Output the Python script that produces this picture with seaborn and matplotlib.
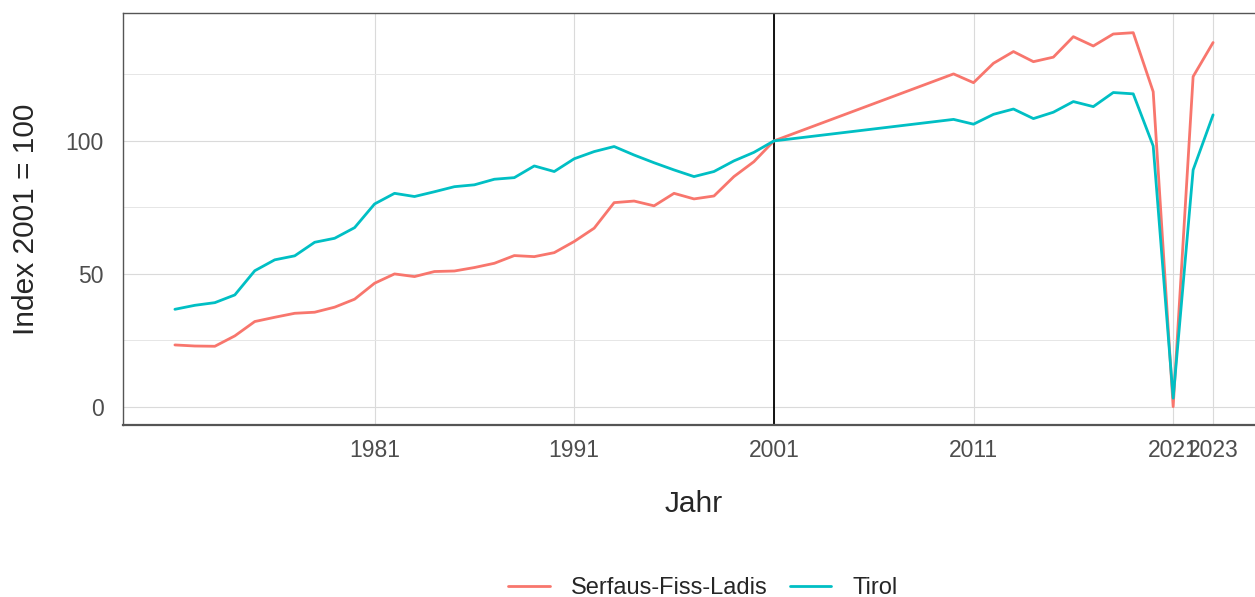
import pandas as pd
import seaborn as sns
import matplotlib.pyplot as plt

# Jahre (Lücke 2002-2009 ohne Daten)
years = list(range(1971, 2002)) + list(range(2010, 2024))

serfaus = [23.3, 22.9, 22.8, 26.7, 32.1, 33.7, 35.2, 35.6, 37.5, 40.5,
           46.5, 50.0, 49.0, 50.9, 51.1, 52.4, 54.0, 56.9, 56.5, 58.0,
           62.2, 67.2, 76.8, 77.4, 75.6, 80.3, 78.2, 79.3, 86.6, 92.2,
           100.0,
           125.2, 121.9, 129.2, 133.6, 129.8, 131.5, 139.2, 135.7, 140.2,
           140.7, 118.5, 0.1, 124.2, 137.0]

tirol = [36.7, 38.2, 39.2, 42.1, 51.2, 55.3, 56.8, 61.9, 63.4, 67.4,
         76.3, 80.3, 79.1, 80.9, 82.8, 83.5, 85.6, 86.2, 90.6, 88.5,
         93.3, 96.0, 97.9, 94.7, 91.8, 89.1, 86.6, 88.5, 92.5, 95.7,
         100.0,
         108.1, 106.3, 110.0, 112.0, 108.4, 110.8, 114.8, 112.9, 118.2,
         117.7, 98.1, 3.3, 89.1, 109.8]

regions = ['Serfaus-Fiss-Ladis', 'Tirol']
colors = ['#F8766D', '#00BFC4']
x_ticks = [1981, 1991, 2001, 2011, 2021, 2023]
y_ticks = [0, 50, 100]

df = pd.DataFrame({
    'Jahr': years * 2,
    'Index': serfaus + tirol,
    'Region': [regions[0]] * len(years) + [regions[1]] * len(years),
})

sns.set_style('white')
plt.rcParams['font.family'] = ['Liberation Sans', 'DejaVu Sans']

fig = plt.figure(figsize=(12.55, 5.97), dpi=100)
ax = fig.add_axes([123 / 1255, 1 - 425 / 597, 1142 / 1255, 412 / 597])

# Gitterlinien
ax.set_yticks([25, 75, 125], minor=True)
ax.grid(True, which='major', color='#DADADA', linewidth=0.8)
ax.grid(True, which='minor', axis='y', color='#E6E6E6', linewidth=0.7)
ax.set_axisbelow(True)

sns.lineplot(data=df, x='Jahr', y='Index', hue='Region', hue_order=regions,
             palette=colors, linewidth=2.0, ax=ax, estimator=None)

ax.axvline(2001, color='black', linewidth=1.3, zorder=1.5)

ax.set_xlim(1968.4, 2025.6)
ax.set_ylim(-6.8, 148.1)
ax.set_xticks(x_ticks)
ax.set_xticklabels([str(t) for t in x_ticks])
ax.set_yticks(y_ticks)
ax.tick_params(axis='both', which='major', length=5, width=0.8, color='#333333',
               labelsize=16.5, labelcolor='#4D4D4D')
ax.tick_params(axis='x', pad=5)
ax.tick_params(axis='y', pad=9)
ax.tick_params(which='minor', length=0)

for side, sp in ax.spines.items():
    sp.set_color('#555555')
    sp.set_linewidth(1.0)
ax.spines['bottom'].set_linewidth(1.6)

ax.set_xlabel('Jahr', fontsize=21.5, labelpad=20)
ax.set_ylabel('Index 2001 = 100', fontsize=21.5, labelpad=18)

handles, labels = ax.get_legend_handles_labels()
ax.legend_.remove()
fig.legend(handles, labels, loc='center', bbox_to_anchor=(703 / 1255, 1 - 588 / 597),
           ncol=2, frameon=False, fontsize=17, handlelength=1.75,
           handletextpad=0.9, columnspacing=0.95)

fig.savefig('out.png', dpi=100)
